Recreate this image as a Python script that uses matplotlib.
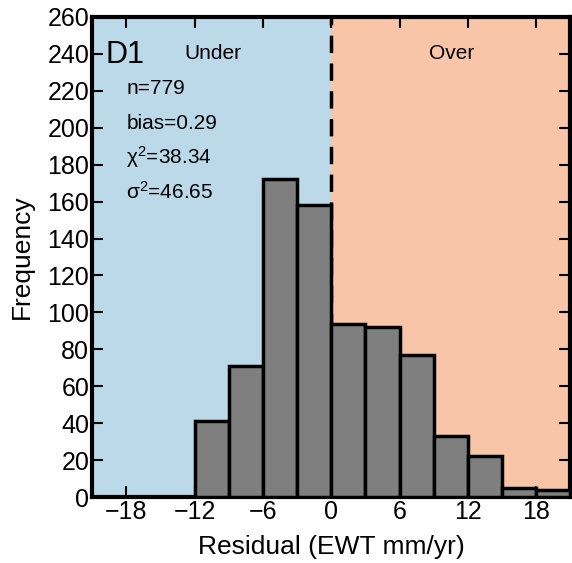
import numpy as np
import matplotlib
matplotlib.use('Agg')
import matplotlib.pyplot as plt

plt.rcParams['font.family'] = ['Liberation Sans', 'DejaVu Sans']
plt.rcParams['mathtext.default'] = 'regular'

# histogram of residuals, bins of 3 mm/yr
bin_edges = [-12, -9, -6, -3, 0, 3, 6, 9, 12, 15, 18, 21]
counts = [41, 71, 172, 158, 94, 92, 77, 33, 22, 5, 4]
stats = ['n=779', 'bias=0.29', 'χ$^2$=38.34', 'σ$^2$=46.65']
xticks = [-18, -12, -6, 0, 6, 12, 18]
yticks = list(range(0, 261, 20))

fig = plt.figure(figsize=(5.72, 5.63), dpi=100)
ax = fig.add_axes([0.161, 0.117, 0.836, 0.853])

ax.axvspan(-21, 0, color='#bcd9ea', zorder=0, lw=0)
ax.axvspan(0, 21, color='#f8c5a8', zorder=0, lw=0)
ax.axvline(0, color='black', ls=(0, (5, 3)), lw=2.5, zorder=1)

ax.bar(bin_edges[:-1], counts, width=3, align='edge', color='#7f7f7f',
       edgecolor='black', linewidth=2.5, zorder=3)

ax.set_xlim(-21, 21)
ax.set_ylim(0, 260)
ax.set_xticks(xticks)
ax.set_yticks(yticks)
ax.tick_params(direction='in', length=8, width=1.5, labelsize=18,
               top=True, right=True, pad=2)
for s in ax.spines.values():
    s.set_linewidth(3)

ax.set_xlabel('Residual (EWT mm/yr)', fontsize=19, labelpad=8)
ax.set_ylabel('Frequency', fontsize=19, labelpad=10)

ax.text(-19.8, 239.5, 'D1', fontsize=22, va='center', ha='left')
ax.text(-10.4, 240, 'Under', fontsize=15, va='center', ha='center')
ax.text(10.6, 240, 'Over', fontsize=15, va='center', ha='center')
for i, s in enumerate(stats):
    ax.text(-18.0, 221 - i * 18.5, s, fontsize=15, va='center', ha='left')

fig.savefig('out.png', dpi=100)
